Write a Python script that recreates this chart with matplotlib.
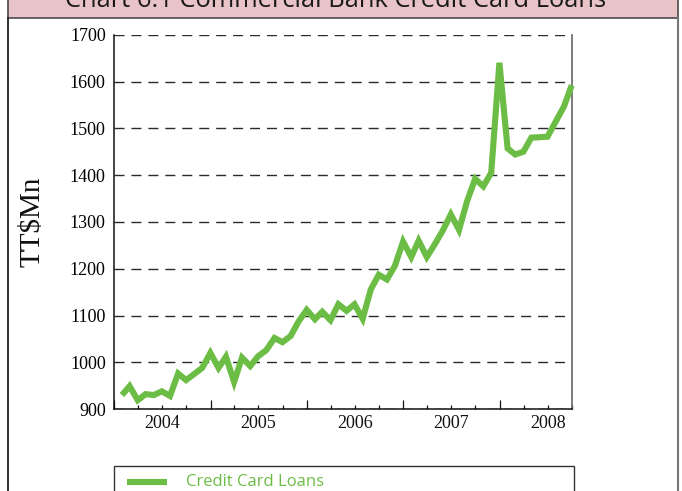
import matplotlib
matplotlib.use("Agg")
import matplotlib.pyplot as plt
import matplotlib.dates as mdates
import pandas as pd
from matplotlib.patches import Rectangle
from matplotlib.lines import Line2D

W, H, DPI = 682, 491, 100

title = "Chart 6.1 Commercial Bank Credit Card Loans"
series_name = "Credit Card Loans"
y_label = "TT$Mn"

# month-end observations, Jan 2004 - Sep 2008
months = pd.date_range(start="2004-02-01", periods=57, freq="MS") - pd.Timedelta(days=1)
loans = [
    930, 949, 919, 932, 930, 938, 928, 976, 962, 975, 988, 1020,
    988, 1012, 958, 1010, 992, 1013, 1026, 1052, 1043, 1056, 1087, 1112,
    1092, 1108, 1090, 1124, 1110, 1124, 1093, 1156, 1187, 1177, 1206, 1258,
    1225, 1260, 1225, 1252, 1282, 1316, 1283, 1345, 1392, 1376, 1405, 1640,
    1457, 1444, 1450, 1480, 1481, 1482, 1514, 1546, 1592,
]
years = [2004, 2005, 2006, 2007, 2008]
y_ticks = [900, 1000, 1100, 1200, 1300, 1400, 1500, 1600, 1700]

GREEN = "#6cbd45"
SERIF = "Liberation Serif"
SANS = "Open Sans"


def fx(px):
    return px / W


def fy(py):
    return 1 - py / H


fig = plt.figure(figsize=(W / DPI, H / DPI), dpi=DPI)
fig.patch.set_facecolor("white")

# title band and outer frame
fig.patches.append(Rectangle((fx(8), fy(17.5)), fx(678) - fx(8), fy(-5) - fy(17.5),
                             transform=fig.transFigure, facecolor="#e8c3c7",
                             edgecolor="#4a4a4a", linewidth=1.2))
fig.lines.append(Line2D([fx(8), fx(8)], [0, fy(17.5)], transform=fig.transFigure,
                        color="#222222", linewidth=1.3))
fig.lines.append(Line2D([fx(678), fx(678)], [0, fy(17.5)], transform=fig.transFigure,
                        color="#777777", linewidth=1.5))
t = fig.text(fx(336), fy(7), title, ha="center", va="baseline",
             fontsize=18, family=SANS, color="#1a1a1a")

# plot area
ax = fig.add_axes([fx(114), fy(409.1), fx(572) - fx(114), fy(34.7) - fy(409.1)])
ax.plot(months, loans, color=GREEN, linewidth=4.4, solid_joinstyle="miter",
        solid_capstyle="butt", clip_on=False, zorder=5)

ax.set_xlim(pd.Timestamp("2004-01-01"), pd.Timestamp("2008-10-01"))
ax.set_ylim(900, 1700)
ax.set_yticks(y_ticks)
ax.set_yticklabels([str(v) for v in y_ticks], family=SERIF, fontsize=13)
ax.tick_params(axis="y", length=0, pad=6)

ax.xaxis.set_major_locator(mdates.YearLocator())
ax.xaxis.set_minor_locator(mdates.MonthLocator(bymonth=[4, 7, 10]))
ax.xaxis.set_major_formatter(plt.NullFormatter())
ax.tick_params(axis="x", which="major", direction="in", length=6.5, width=0.9, color="#111111")
ax.tick_params(axis="x", which="minor", direction="in", length=3, width=0.9, color="#111111")

# year labels centred on each year
for yr in years:
    ax.text(pd.Timestamp(f"{yr}-07-01"), -(428 - 409.1) / 374.4, str(yr),
            transform=ax.get_xaxis_transform(), ha="center", va="baseline",
            family=SERIF, fontsize=13, color="#111111")

ax.yaxis.grid(True, color="#2a2a2a", linewidth=1.0, linestyle=(0, (7.2, 5.0)))
ax.set_axisbelow(True)
ax.spines["top"].set_visible(False)
ax.spines["left"].set_color("#111111")
ax.spines["left"].set_linewidth(1.1)
ax.spines["bottom"].set_color("#111111")
ax.spines["bottom"].set_linewidth(1.1)
ax.spines["right"].set_color("#666666")
ax.spines["right"].set_linewidth(1.2)
ax.set_facecolor("none")

fig.text(fx(33), fy(222), y_label, rotation=90, ha="center", va="center",
         family=SERIF, fontsize=21, color="#111111")

# legend box
fig.patches.append(Rectangle((fx(114), fy(500)), fx(574) - fx(114), fy(466) - fy(500),
                             transform=fig.transFigure, facecolor="none",
                             edgecolor="#333333", linewidth=1.0))
fig.lines.append(Line2D([fx(127), fx(167)], [fy(482), fy(482)], transform=fig.transFigure,
                        color=GREEN, linewidth=4.4, solid_capstyle="butt"))
fig.text(fx(186), fy(482), series_name, ha="left", va="center", family=SANS,
         fontsize=12, color=GREEN)

# fit title width to the band
fig.canvas.draw()
bb = t.get_window_extent()
t.set_fontsize(t.get_fontsize() * 542 / bb.width)

fig.savefig("out.png", dpi=DPI)
